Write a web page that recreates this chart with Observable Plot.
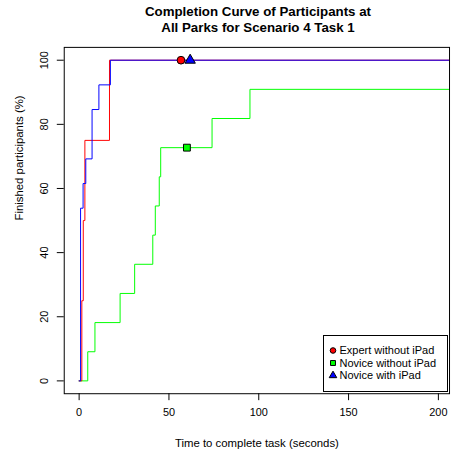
<!DOCTYPE html>
<html><head><meta charset="utf-8">
<script src="https://cdn.jsdelivr.net/npm/d3@7"></script>
<script src="https://cdn.jsdelivr.net/npm/@observablehq/plot@0.6"></script>
<style>
html,body{margin:0;padding:0;background:#fff;overflow:hidden;width:452px;height:456px;}
#wrap{position:relative;width:452px;height:456px;overflow:hidden;font-family:"Liberation Sans",Arial,sans-serif;}
#title{position:absolute;left:64px;width:388px;top:4px;text-align:center;font-weight:bold;font-size:13.3px;line-height:16px;color:#000;}
#chart{position:absolute;left:0;top:0;}
#legend{position:absolute;left:323px;top:335px;}
</style></head>
<body><div id="wrap"><div id="chart"></div><div id="title"></div><div id="legend"></div></div>
<script>
const titleLines = ["Completion Curve of Participants at", "All Parks for Scenario 4 Task 1"];
const xLabel = "Time to complete task (seconds)";
const yLabel = "Finished participants (%)";
const timeTicks = [0, 50, 100, 150, 200];
const pctTicks = [0, 20, 40, 60, 80, 100];
const seriesNames = ["Expert without iPad", "Novice without iPad", "Novice with iPad"];
const seriesColors = ["#ff0000", "#00ff00", "#0000ff"];
const seriesSymbols = ["circle", "square", "triangle"];

// step curves: time at which the percentage becomes the value
const expertTime = [0, 1.5, 2.3, 3.2, 16.9, 215];
const expertPct  = [0, 25, 50, 75, 100, 100];
const noviceTime = [0, 4.8, 8.8, 22.8, 30.9, 41.0, 42.4, 44.6, 45.4, 74.0, 95.1, 215];
const novicePct  = [0, 9.09, 18.18, 27.27, 36.36, 45.45, 54.55, 63.64, 72.73, 81.82, 90.91, 90.91];
const ipadTime   = [0, 0.8, 2.2, 3.7, 7.2, 11.0, 17.4, 215];
const ipadPct    = [0, 53.85, 61.54, 69.23, 84.62, 92.31, 100, 100];

// marker positions (one per series)
const markerTime = [56.7, 60.0, 61.8];
const markerPct  = [100, 72.73, 100];

document.getElementById("title").innerHTML = titleLines.join("<br>");

const toRows = (ts, ps, name) => ts.map((t, i) => ({t, p: ps[i], name}));
const expert = toRows(expertTime, expertPct, seriesNames[0]);
const novice = toRows(noviceTime, novicePct, seriesNames[1]);
const ipad = toRows(ipadTime, ipadPct, seriesNames[2]);
const markers = seriesNames.map((name, i) => ({name, t: markerTime[i], p: markerPct[i]}));

const font = "Liberation Sans, Arial, sans-serif";
const chart = Plot.plot({
  width: 456, height: 456,
  marginLeft: 64.3, marginRight: 3, marginTop: 47.3, marginBottom: 59.3,
  style: {fontFamily: font, fontSize: "11px", background: "white", color: "black"},
  x: {domain: [-8.3, 206.2], axis: null},
  y: {domain: [-4, 104], axis: null},
  color: {domain: seriesNames, range: seriesColors},
  symbol: {domain: seriesNames, range: seriesSymbols},
  marks: [
    Plot.line(novice, {x: "t", y: "p", stroke: seriesColors[1], strokeWidth: 1, curve: "step-after", clip: true}),
    Plot.line(expert, {x: "t", y: "p", stroke: seriesColors[0], strokeWidth: 1, curve: "step-after", clip: true}),
    Plot.line(ipad, {x: "t", y: "p", stroke: seriesColors[2], strokeWidth: 1, curve: "step-after", clip: true}),
    Plot.dot(markers, {x: "t", y: "p", symbol: "name", fill: "name", stroke: "black", strokeWidth: 1, r: 3.9}),
    Plot.frame({stroke: "black", strokeWidth: 1}),
    Plot.axisX({ticks: timeTicks, tickSize: 7, tickPadding: 8, fontSize: 11, anchor: "bottom", label: null}),
    Plot.axisY({ticks: pctTicks, tickSize: 7, tickPadding: 9, tickRotate: -90, fontSize: 11, anchor: "left", label: null}),
    Plot.text([xLabel], {frameAnchor: "bottom", text: d => d, dy: 50, fontSize: 11.5, lineAnchor: "middle"}),
    Plot.text([yLabel], {frameAnchor: "left", text: d => d, dx: -45, rotate: -90, fontSize: 11.5, lineAnchor: "middle"})
  ]
});
document.getElementById("chart").appendChild(chart);

// legend
const lw = 124, lh = 56;
const lsvg = d3.select("#legend").append("svg").attr("width", lw + 1).attr("height", lh + 1);
lsvg.append("rect").attr("x", 0.5).attr("y", 0.5).attr("width", lw).attr("height", lh)
  .attr("fill", "white").attr("stroke", "black");
const symMap = {circle: d3.symbolCircle, square: d3.symbolSquare, triangle: d3.symbolTriangle};
const rowY = [15.5, 28, 40.5];
seriesNames.forEach((name, i) => {
  const r = 2.8;
  lsvg.append("path")
    .attr("d", d3.symbol(symMap[seriesSymbols[i]], Math.PI * r * r)())
    .attr("transform", `translate(10,${rowY[i]})`)
    .attr("fill", seriesColors[i]).attr("stroke", "black").attr("stroke-width", 1);
  lsvg.append("text").attr("x", 16.5).attr("y", rowY[i]).attr("dy", "0.35em")
    .attr("font-family", font).attr("font-size", 11).text(name);
});
</script></body></html>
